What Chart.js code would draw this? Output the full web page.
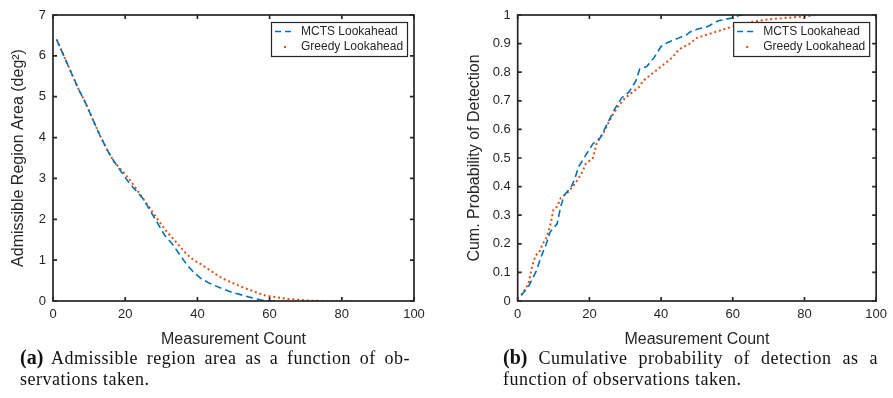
<!DOCTYPE html>
<html>
<head>
<meta charset="utf-8">
<script src="https://cdn.jsdelivr.net/npm/chart.js@4.4.1/dist/chart.umd.min.js"></script>
<style>
  body { margin: 0; background: #fff; width: 893px; height: 398px; overflow: hidden; position: relative; }
  canvas { position: absolute; top: 0; }
  #chartA { left: 0; }
  #chartB { left: 445px; }
  .cap { position: absolute; font-family: "Liberation Serif", "DejaVu Serif", serif; font-size: 18px; letter-spacing: 0.5px; color: #111; line-height: 21px; }
  .cap b { font-size: 20px; letter-spacing: 0; }
  .cap .l1 { text-align: justify; text-align-last: justify; white-space: nowrap; }
  #capA { left: 20px; top: 347px; width: 390px; }
  #capB { left: 503px; top: 347px; width: 375px; }
</style>
</head>
<body>
<canvas id="chartA" width="440" height="349"></canvas>
<canvas id="chartB" width="448" height="349"></canvas>
<div class="cap" id="capA"><div class="l1"><b>(a)</b> Admissible region area as a function of ob-</div><div>servations taken.</div></div>
<div class="cap" id="capB"><div class="l1"><b>(b)</b> Cumulative probability of detection as a</div><div>function of observations taken.</div></div>
<script>
// (a) admissible region area
const areaMctsX = [1, 3, 5, 7, 9, 11, 13, 15, 17, 19, 21, 23, 25, 27, 29, 31, 33, 35, 37, 39, 41, 43, 45, 47, 50, 53, 56, 58, 60, 62];
const areaMctsY = [6.4, 6.0, 5.6, 5.2, 4.85, 4.45, 4.05, 3.7, 3.4, 3.15, 2.9, 2.7, 2.5, 2.2, 1.9, 1.6, 1.4, 1.15, 0.9, 0.7, 0.55, 0.45, 0.37, 0.3, 0.2, 0.13, 0.06, 0.02, 0.0, 0.0];
const areaGreedyX = [1, 3, 5, 7, 9, 11, 13, 15, 17, 19, 21, 23, 25, 27, 29, 31, 33, 35, 37, 39, 41, 43, 45, 47, 50, 53, 56, 59, 62, 65, 68, 71, 75, 80, 83];
const areaGreedyY = [6.4, 6.0, 5.6, 5.2, 4.85, 4.45, 4.05, 3.7, 3.4, 3.2, 3.0, 2.75, 2.5, 2.25, 2.0, 1.75, 1.55, 1.35, 1.15, 1.0, 0.9, 0.78, 0.66, 0.55, 0.43, 0.32, 0.22, 0.13, 0.09, 0.05, 0.03, 0.01, 0.0, 0.0, 0.0];

// (b) cumulative probability of detection
const pdMctsX = [1, 3, 5, 7, 8, 9, 11, 12, 13, 15, 16, 17, 19, 21, 23, 25, 27, 29, 31, 33, 34, 36, 38, 40, 42, 45, 47, 48, 50, 53, 56, 60, 62, 64];
const pdMctsY = [0.02, 0.05, 0.10, 0.17, 0.20, 0.24, 0.27, 0.33, 0.37, 0.40, 0.43, 0.47, 0.51, 0.55, 0.57, 0.62, 0.67, 0.71, 0.73, 0.77, 0.81, 0.82, 0.85, 0.89, 0.905, 0.92, 0.93, 0.94, 0.95, 0.96, 0.98, 0.99, 1.0, 1.0];
const pdGreedyX = [1, 2, 3, 4, 5, 6, 7, 8, 9, 10, 11, 12, 14, 16, 18, 19, 21, 22, 24, 26, 28, 30, 32, 34, 35, 38, 40, 43, 45, 48, 50, 55, 60, 65, 70, 75, 80, 83];
const pdGreedyY = [0.02, 0.04, 0.06, 0.12, 0.16, 0.17, 0.20, 0.22, 0.26, 0.32, 0.33, 0.36, 0.38, 0.41, 0.45, 0.48, 0.50, 0.55, 0.59, 0.64, 0.68, 0.71, 0.73, 0.75, 0.77, 0.80, 0.82, 0.85, 0.88, 0.90, 0.92, 0.94, 0.96, 0.975, 0.985, 0.99, 0.995, 1.0];

const xTicks = [0, 20, 40, 60, 80, 100];
const areaTicks = [0, 1, 2, 3, 4, 5, 6, 7];
const areaTickLabels = ['0', '1', '2', '3', '4', '5', '6', '7'];
const pdTicks = [0, 0.1, 0.2, 0.3, 0.4, 0.5, 0.6, 0.7, 0.8, 0.9, 1];
const pdTickLabels = ['0', '0.1', '0.2', '0.3', '0.4', '0.5', '0.6', '0.7', '0.8', '0.9', '1'];

const seriesNames = ['MCTS Lookahead', 'Greedy Lookahead'];
const blue = '#0072BD';
const orange = '#D95319';
const axisColor = '#262626';
const font = '"Liberation Sans", Arial, Helvetica, sans-serif';

function pts(xs, ys) {
  return xs.map((x, i) => ({ x: x, y: ys[i] }));
}

// box around axes, inward ticks and a MATLAB style legend
const matlabBox = {
  id: 'matlabBox',
  afterDatasetsDraw(chart) {
    const { ctx, chartArea: a, scales } = chart;
    ctx.save();
    ctx.strokeStyle = axisColor;
    ctx.lineWidth = 1.7;
    ctx.beginPath();
    scales.x.ticks.forEach(t => {
      const px = scales.x.getPixelForValue(t.value);
      ctx.moveTo(px, a.bottom); ctx.lineTo(px, a.bottom - 4);
      ctx.moveTo(px, a.top); ctx.lineTo(px, a.top + 4);
    });
    scales.y.ticks.forEach(t => {
      const py = scales.y.getPixelForValue(t.value);
      ctx.moveTo(a.left, py); ctx.lineTo(a.left + 4, py);
      ctx.moveTo(a.right, py); ctx.lineTo(a.right - 4, py);
    });
    ctx.stroke();
    ctx.strokeRect(a.left, a.top, a.right - a.left, a.bottom - a.top);

    // legend
    const w = 136, h = 34;
    const lx = a.right - 7 - w, ly = a.top + 7;
    ctx.fillStyle = '#fff';
    ctx.fillRect(lx, ly, w, h);
    ctx.lineWidth = 1.2;
    ctx.strokeRect(lx + 0.5, ly + 0.5, w, h);
    ctx.font = '12px ' + font;
    ctx.textBaseline = 'middle';
    chart.data.datasets.forEach((ds, i) => {
      const ry = ly + 9.5 + i * 15.5;
      ctx.strokeStyle = ds.borderColor;
      ctx.lineWidth = ds.borderWidth;
      ctx.setLineDash(i === 0 ? [6, 4] : [2, 20]);
      ctx.beginPath();
      if (i === 0) { ctx.moveTo(lx + 4, ry); ctx.lineTo(lx + 24, ry); }
      else { ctx.moveTo(lx + 13, ry); ctx.lineTo(lx + 15, ry); }
      ctx.stroke();
      ctx.setLineDash([]);
      ctx.fillStyle = axisColor;
      ctx.fillText(ds.label, lx + 30, ry);
    });
    ctx.restore();
  }
};

function makeChart(id, mx, my, gx, gy, yTicks, yLabels, yMax, yTitle, yWidth, rightPad, titlePad) {
  return new Chart(document.getElementById(id), {
    type: 'line',
    data: {
      datasets: [
        { label: seriesNames[0], data: pts(mx, my), borderColor: blue, borderWidth: 1.6, borderDash: [7, 4], pointRadius: 0, fill: false },
        { label: seriesNames[1], data: pts(gx, gy), borderColor: orange, borderWidth: 2, borderDash: [2, 2.8], pointRadius: 0, fill: false }
      ]
    },
    options: {
      responsive: false,
      animation: false,
      layout: { padding: { top: 15, right: rightPad, left: 0, bottom: 0 } },
      plugins: { legend: { display: false }, tooltip: { enabled: false } },
      scales: {
        x: {
          type: 'linear', min: 0, max: 100,
          afterBuildTicks: s => { s.ticks = xTicks.map(v => ({ value: v })); },
          afterFit: s => { s.height = 48; },
          grid: { display: false, drawTicks: false },
          border: { display: false },
          ticks: { color: axisColor, font: { family: font, size: 13 }, padding: 6, maxRotation: 0 },
          title: { display: true, text: 'Measurement Count', color: axisColor, font: { family: font, size: 16 }, padding: { top: 0, bottom: 0 } }
        },
        y: {
          type: 'linear', min: 0, max: yMax,
          afterBuildTicks: s => { s.ticks = yTicks.map(v => ({ value: v })); },
          afterFit: s => { s.width = yWidth; },
          grid: { display: false, drawTicks: false },
          border: { display: false },
          ticks: { color: axisColor, font: { family: font, size: 13 }, padding: 7,
                   callback: (v, i) => yLabels[i] },
          title: { display: true, text: yTitle, color: axisColor, font: { family: font, size: 16 }, padding: { top: titlePad, bottom: 0 } }
        }
      }
    },
    plugins: [matlabBox]
  });
}

makeChart('chartA', areaMctsX, areaMctsY, areaGreedyX, areaGreedyY, areaTicks, areaTickLabels, 7, 'Admissible Region Area (deg²)', 53, 26, 9);
makeChart('chartB', pdMctsX, pdMctsY, pdGreedyX, pdGreedyY, pdTicks, pdTickLabels, 1, 'Cum. Probability of Detection', 72.7, 14, 20);
</script>
</body>
</html>
